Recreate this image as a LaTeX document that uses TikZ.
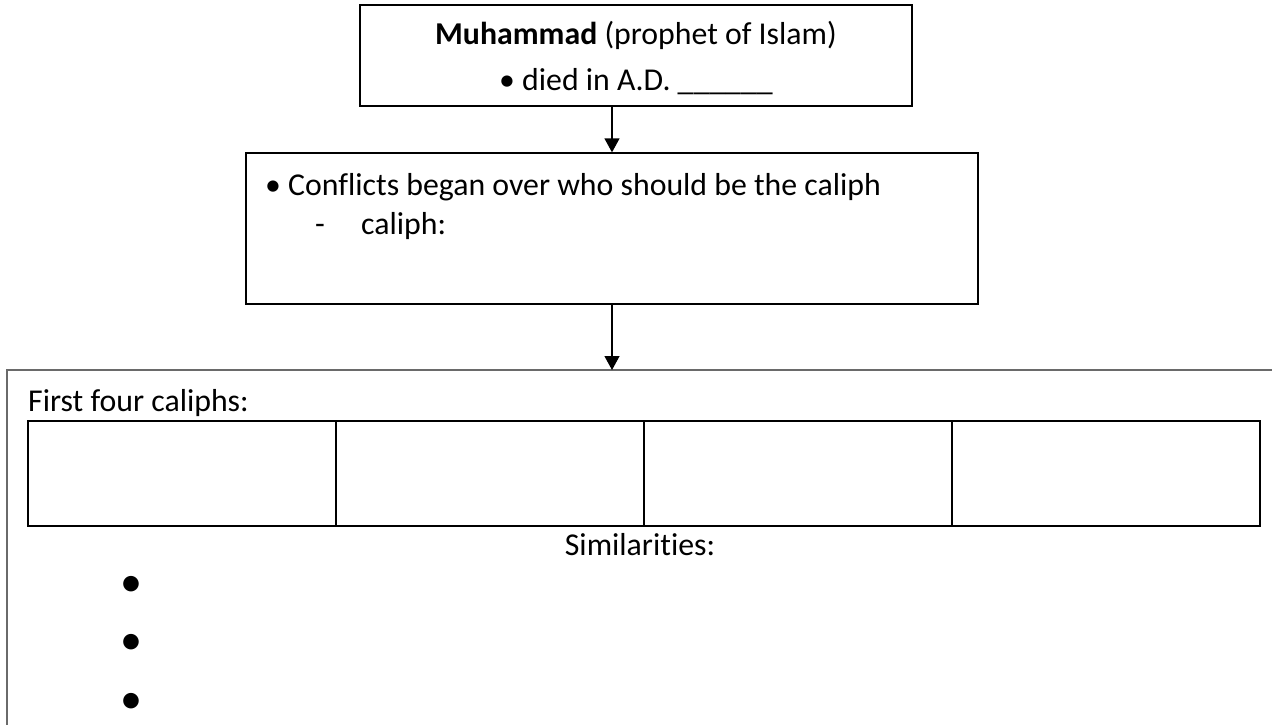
\documentclass[tikz,border=0pt]{standalone}
\usepackage{fontspec}
\setmainfont{Carlito}[Ligatures=NoCommon]
\usetikzlibrary{arrows.meta,positioning}
\definecolor{FrameGray}{HTML}{6A6A6A}

\begin{document}
\begin{tikzpicture}[x=1pt,y=-1pt,>={Triangle[width=15pt,length=14pt]}]
\tikzstyle{box}=[rectangle,draw=black,line width=1.3pt,inner sep=0pt]
\tikzstyle{cell}=[rectangle,draw=black,line width=2.3pt,inner sep=0pt,outer sep=0pt,
                  minimum width=308pt,minimum height=105pt]
\tikzstyle{txt}=[inner sep=0pt,anchor=base west,font=\fontsize{31.8}{38}\selectfont]
\tikzstyle{bul}=[inner sep=0pt,font=\fontsize{44}{50}\selectfont]
\useasboundingbox (0,0) rectangle (1272,725);
\clip (0,0) rectangle (1272,725);
% boxes
\node[box,minimum width=552pt,minimum height=101pt] (muh) at (636,55.5) {};
\node[box,minimum width=732pt,minimum height=151pt] (conf) at (612,228.5) {};
\node[draw=FrameGray,line width=1.6pt,inner sep=0pt,outer sep=0pt,anchor=north west,
      minimum width=1320pt,minimum height=420pt] (frame) at (7,370) {};
% texts
\node[txt,anchor=base] (muhname) at (636,45) {\textbf{Muhammad} (prophet of Islam)};
\node[txt,anchor=base] (died) at (636,91) {• died in A.D. \_\_\_\_\_\_};
\node[txt] (conftxt) at (265,195) {• Conflicts began over who should be the caliph};
\node[txt] (dash) at (315,234) {-};
\node[txt] (calword) at (361,234) {caliph:};
\node[txt] (first) at (28,411) {First four caliphs:};
% four caliphs
\node[cell,anchor=north west] (cell1) at (28,421) {};
\node[cell,right=0pt of cell1] (cell2) {};
\node[cell,right=0pt of cell2] (cell3) {};
\node[cell,right=0pt of cell3] (cell4) {};
\node[txt,anchor=base] (sim) at (640,555) {Similarities:};
\foreach \y [count=\k] in {586,644,703}
  \node[bul] (dot\k) at (131,\y) {•};
% arrows
\draw[->,line width=1.3pt] (conf.north |- muh.south) -- (conf.north);
\draw[->,line width=1.3pt] (conf.south) -- (conf.south |- frame.north);
\end{tikzpicture}
\end{document}
